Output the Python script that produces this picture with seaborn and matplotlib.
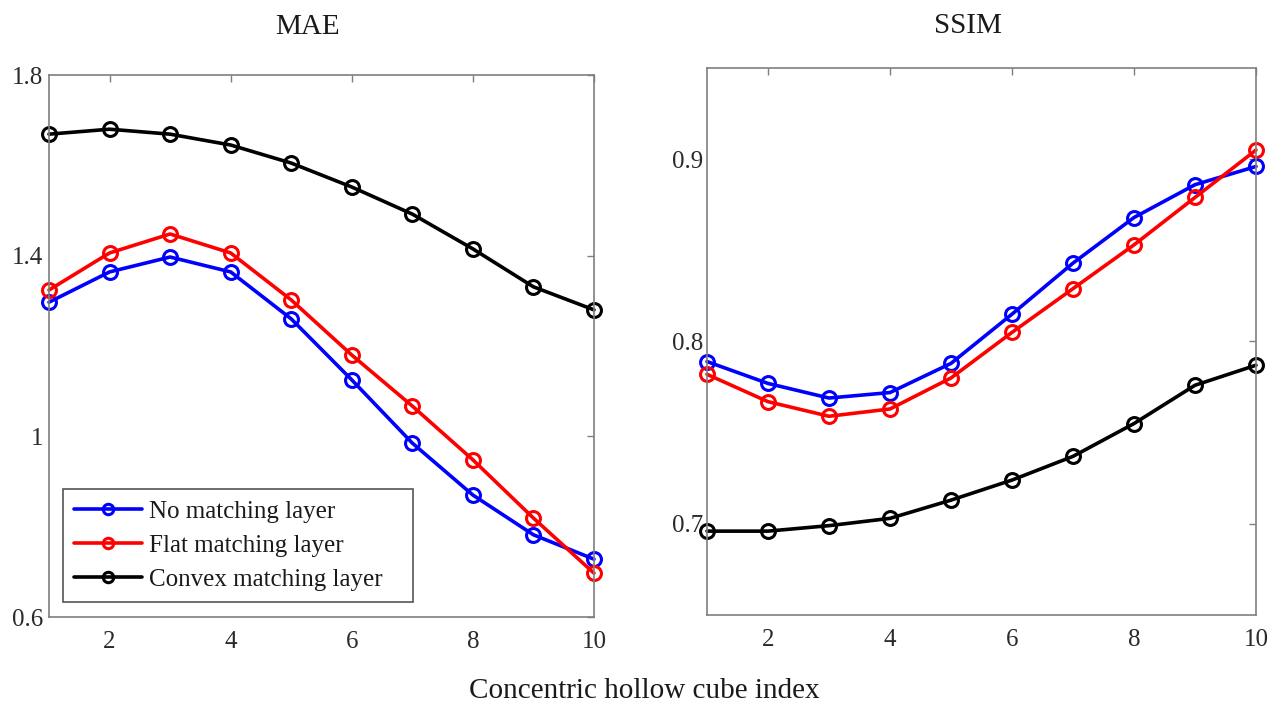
import numpy as np
import pandas as pd
import matplotlib
matplotlib.use("Agg")
import matplotlib.pyplot as plt
import seaborn as sns

# ---- data ----
index = [1, 2, 3, 4, 5, 6, 7, 8, 9, 10]
series_names = ["No matching layer", "Flat matching layer", "Convex matching layer"]
colors = ["#0000FF", "#FF0000", "#000000"]

mae_no = [1.297, 1.364, 1.397, 1.364, 1.260, 1.125, 0.985, 0.870, 0.782, 0.728]
mae_flat = [1.324, 1.406, 1.448, 1.406, 1.302, 1.180, 1.067, 0.948, 0.819, 0.697]
mae_convex = [1.669, 1.680, 1.669, 1.645, 1.605, 1.552, 1.492, 1.415, 1.331, 1.280]

ssim_no = [0.789, 0.777, 0.769, 0.772, 0.788, 0.815, 0.843, 0.868, 0.886, 0.896]
ssim_flat = [0.782, 0.767, 0.759, 0.763, 0.780, 0.805, 0.829, 0.853, 0.879, 0.905]
ssim_convex = [0.696, 0.696, 0.699, 0.703, 0.713, 0.724, 0.737, 0.755, 0.776, 0.787]

mae_yticks = [0.6, 1.0, 1.4, 1.8]
mae_yticklabels = ["0.6", "1", "1.4", "1.8"]
ssim_yticks = [0.7, 0.8, 0.9]
ssim_yticklabels = ["0.7", "0.8", "0.9"]
xticks = [2, 4, 6, 8, 10]


def long_df(a, b, c):
    frames = []
    for name, vals in zip(series_names, [a, b, c]):
        frames.append(pd.DataFrame({"x": index, "y": vals, "series": name}))
    return pd.concat(frames, ignore_index=True)


mae_df = long_df(mae_no, mae_flat, mae_convex)
ssim_df = long_df(ssim_no, ssim_flat, ssim_convex)

sns.set_style("white")
plt.rcParams["font.family"] = ["Liberation Serif", "DejaVu Serif"]
plt.rcParams["text.color"] = "#1a1a1a"

W, H = 1285, 709
fig = plt.figure(figsize=(W / 100, H / 100), dpi=100)
ax1 = fig.add_axes([49 / W, 1 - 617 / H, (594 - 49) / W, (617 - 75) / H])
ax2 = fig.add_axes([707 / W, 1 - 615 / H, (1256 - 707) / W, (615 - 68) / H])

palette = dict(zip(series_names, colors))
line_kw = dict(marker="o", markersize=10, markerfacecolor="none",
               markeredgewidth=2.2, linewidth=2.6)

for ax, df in [(ax1, mae_df), (ax2, ssim_df)]:
    sns.lineplot(data=df, x="x", y="y", hue="series", hue_order=series_names,
                 palette=palette, ax=ax, legend=False, **line_kw)
    for ln in ax.get_lines():
        ln.set_markeredgecolor(ln.get_color())
        ln.set_clip_on(False)
    ax.set_xlim(1, 10)
    ax.set_xticks(xticks)
    ax.set_xlabel("")
    ax.set_ylabel("")
    for sp in ax.spines.values():
        sp.set_color("#7f7f7f")
        sp.set_linewidth(1.2)
    ax.tick_params(direction="in", length=5, width=1, color="#7f7f7f",
                   top=True, right=True, labelsize=18, labelcolor="#2a2a2a")
    ax.tick_params(axis="x", pad=10)

ax1.set_ylim(0.6, 1.8)
ax1.set_yticks(mae_yticks)
ax1.set_yticklabels(mae_yticklabels)
ax1.tick_params(axis="y", pad=4)
ax2.set_ylim(0.65, 0.95)
ax2.set_yticks(ssim_yticks)
ax2.set_yticklabels(ssim_yticklabels)
ax2.tick_params(axis="y", pad=3)

fig.text(307 / W, 1 - 27 / H, "MAE", ha="center", va="center", fontsize=21, color="#1a1a1a")
fig.text(968 / W, 1 - 26 / H, "SSIM", ha="center", va="center", fontsize=21, color="#1a1a1a")

leg = ax1.legend(handles=ax1.get_lines()[:3], labels=series_names,
                 loc="lower left", bbox_to_anchor=(14 / 545, 15 / 542, 350 / 545, 113 / 542),
                 mode="expand", borderaxespad=0, fontsize=18, markerscale=0.75,
                 frameon=True, fancybox=False, framealpha=1, edgecolor="#555555",
                 handlelength=2.7, handletextpad=0.3, borderpad=0.45, labelspacing=0.46)
leg.get_frame().set_linewidth(1.2)

fig.text(644 / W, 1 - 691 / H, "Concentric hollow cube index", ha="center", va="center",
         fontsize=21, color="#1a1a1a")

fig.savefig("out.png", dpi=100)
